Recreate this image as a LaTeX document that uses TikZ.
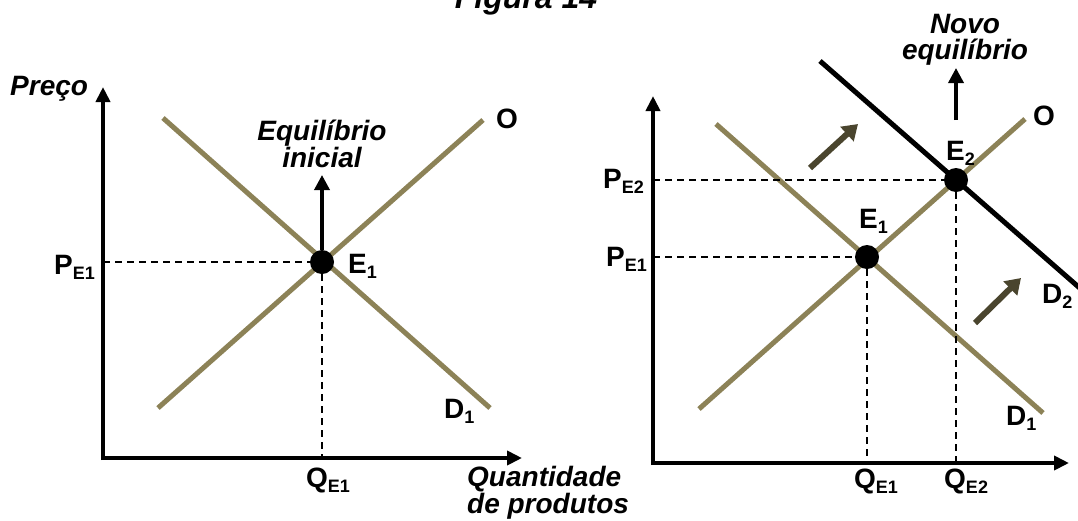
\documentclass[tikz,border=0pt]{standalone}
\usepackage{fontspec}
\setmainfont{Liberation Sans}
\usetikzlibrary{arrows.meta}

\begin{document}
\begin{tikzpicture}[x=1pt,y=-1pt]

\definecolor{myolive}{rgb}{0.55, 0.51, 0.34}
\definecolor{myshift}{rgb}{0.29, 0.27, 0.18}

\newcommand{\SubLabel}[2]{%
  {\fontsize{28}{30}\selectfont\bfseries #1\raisebox{-5pt}{\fontsize{18}{18}\selectfont #2}}%
}

\tikzset{
  curve/.style={myolive, line width=5pt},
  newcurve/.style={black, line width=5pt},
  axis/.style={line width=4pt, -{Triangle[length=15pt,width=14pt]}},
  guide/.style={line width=1.8pt, dash pattern=on 7pt off 5pt},
  eqdot/.style={circle, fill=black, inner sep=0pt, minimum size=24pt},
  uparrow/.style={line width=3.5pt, -{Triangle[length=15pt,width=15pt]}},
  shiftarrow/.style={myshift, line width=6pt, -{Triangle[length=15pt,width=19pt]}},
  caption/.style={font=\fontsize{28}{26}\selectfont\bfseries\itshape, align=center, inner sep=0pt},
  lbl/.style={inner sep=0pt, anchor=base west},
}

\useasboundingbox (0,0) rectangle (1078,520);

\node[font=\fontsize{32}{32}\selectfont\bfseries\itshape, inner sep=0pt, anchor=base] (title) at (526,8) {Figura 14};

% left panel: initial equilibrium
\draw[axis] (103,460) -- (103,87);
\draw[axis] (101,458) -- (522,458);

\draw[curve] (158,408) -- (483,120);
\draw[curve] (163,118) -- (490,408);

\coordinate (pA) at (103,262);
\coordinate (qA) at (322,458);
\coordinate (eAc) at (322,262);
\draw[guide] (pA) -- (eAc);
\draw[guide] (eAc) -- (qA);
\node[eqdot] (eA) at (eAc) {};

\coordinate (tipA) at (322,175);
\draw[uparrow] (eA.north) -- (tipA);

\node[caption] (capA) at (322,144) {Equilíbrio\\inicial};
\node[lbl, font=\fontsize{28}{28}\selectfont\bfseries\itshape] (yname) at (10,95) {Preço};
\node[lbl, font=\fontsize{28}{27}\selectfont\bfseries\itshape, align=left] (xname) at (467,513) {Quantidade\\de produtos};

\node[lbl] (labEA) at (348,273) {\SubLabel{E}{1}};
\node[lbl] (labPA) at (54,274) {\SubLabel{P}{E1}};
\node[lbl] (labQA) at (306,487) {\SubLabel{Q}{E1}};
\node[lbl] (labDA) at (444,418) {\SubLabel{D}{1}};
\node[lbl] (labOA) at (496,128) {\SubLabel{O}{}};

% right panel: demand shifts to D2
\draw[axis] (653,465) -- (653,96);
\draw[axis] (651,463) -- (1069,463);

\draw[curve] (699,409) -- (1025,119);
\draw[curve] (716,124) -- (1043,413);
\draw[newcurve] (820,61) -- (1082,290);

\coordinate (pB) at (653,257);
\coordinate (qB) at (867,463);
\coordinate (eBc) at (867,257);
\coordinate (pC) at (653,180);
\coordinate (qC) at (956,463);
\coordinate (eCc) at (956,180);
\draw[guide] (pB) -- (eBc);
\draw[guide] (eBc) -- (qB);
\draw[guide] (pC) -- (eCc);
\draw[guide] (eCc) -- (qC);
\node[eqdot] (eB) at (eBc) {};
\node[eqdot] (eC) at (eCc) {};

\coordinate (tipC) at (956,68);
\draw[uparrow] (956,120) -- (tipC);
\node[caption] (capC) at (965,40) {Novo\\equilíbrio};

\coordinate (sA) at (810,168);
\coordinate (sB) at (858,124);
\coordinate (sC) at (975,323);
\coordinate (sD) at (1021,278);
\draw[shiftarrow] (sA) -- (sB);
\draw[shiftarrow] (sC) -- (sD);

\node[lbl] (labEB) at (859,228) {\SubLabel{E}{1}};
\node[lbl] (labEC) at (946,160) {\SubLabel{E}{2}};
\node[lbl] (labPB) at (606,266) {\SubLabel{P}{E1}};
\node[lbl] (labPC) at (603,188) {\SubLabel{P}{E2}};
\node[lbl] (labQB) at (854,488) {\SubLabel{Q}{E1}};
\node[lbl] (labQC) at (944,488) {\SubLabel{Q}{E2}};
\node[lbl] (labDB) at (1006,425) {\SubLabel{D}{1}};
\node[lbl] (labDC) at (1042,303) {\SubLabel{D}{2}};
\node[lbl] (labOB) at (1033,125) {\SubLabel{O}{}};

\end{tikzpicture}
\end{document}
